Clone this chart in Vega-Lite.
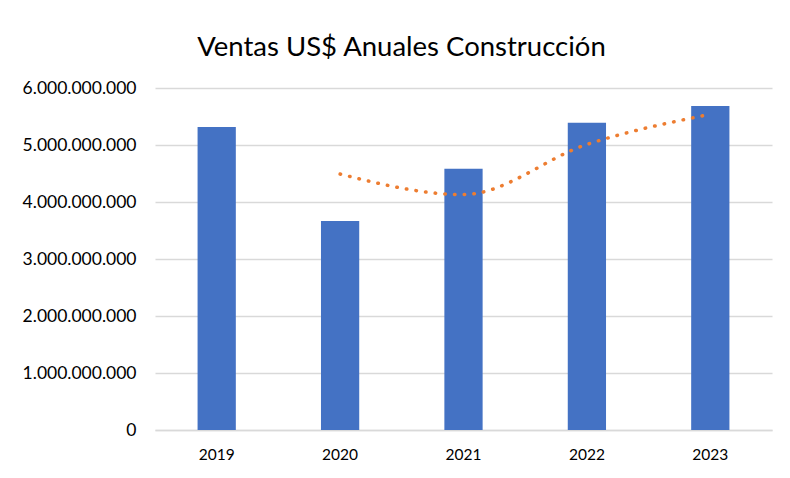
{
  "$schema": "https://vega.github.io/schema/vega-lite/v6.json",
  "autosize": {"type": "none"},
  "width": 617,
  "height": 342,
  "padding": {"left": 155, "top": 88, "right": 18, "bottom": 48},
  "background": "white",
  "config": {"view": {"stroke": null}},
  "title": {
    "text": "Ventas US$ Anuales Construcción",
    "font": "Lato",
    "fontSize": 27.5,
    "fontWeight": "normal",
    "color": "#000000",
    "baseline": "alphabetic",
    "offset": -4,
    "dx": -62
  },
  "data": {
    "values": [
      {"anio": "2019", "ventas": 5316000000, "media": null},
      {"anio": "2020", "ventas": 3667000000, "media": 4490000000},
      {"anio": "2021", "ventas": 4585000000, "media": 4130000000},
      {"anio": "2022", "ventas": 5390000000, "media": 5010000000},
      {"anio": "2023", "ventas": 5686000000, "media": 5540000000}
    ]
  },
  "encoding": {
    "x": {
      "field": "anio",
      "type": "nominal",
      "title": null,
      "scale": {"paddingInner": 0.69, "paddingOuter": 0.345},
      "axis": {
        "labelAngle": 0,
        "labelFont": "Lato",
        "labelFontSize": 15.5,
        "labelColor": "#000000",
        "labelPadding": 17,
        "ticks": false,
        "domain": true,
        "domainColor": "#d9d9d9",
        "domainWidth": 1.5,
        "grid": false
      }
    }
  },
  "layer": [
    {
      "mark": {"type": "bar", "color": "#4472C4"},
      "encoding": {
        "y": {
          "field": "ventas",
          "type": "quantitative",
          "title": null,
          "scale": {"domain": [0, 6000000000]},
          "axis": {
            "values": [0, 1000000000, 2000000000, 3000000000, 4000000000, 5000000000, 6000000000],
            "labelExpr": "replace(format(datum.value, ',.0f'), /,/g, '.')",
            "labelFont": "Lato",
            "labelFontSize": 17.5,
            "labelColor": "#000000",
            "labelPadding": 19,
            "ticks": false,
            "domain": false,
            "grid": true,
            "gridColor": "#d9d9d9",
            "gridWidth": 1.5
          }
        }
      }
    },
    {
      "transform": [{"filter": "datum.media != null"}],
      "mark": {
        "type": "line",
        "color": "#ED7D31",
        "strokeWidth": 3.5,
        "strokeDash": [0.5, 9.2],
        "strokeCap": "round",
        "interpolate": "monotone"
      },
      "encoding": {
        "y": {"field": "media", "type": "quantitative"}
      }
    }
  ]
}
